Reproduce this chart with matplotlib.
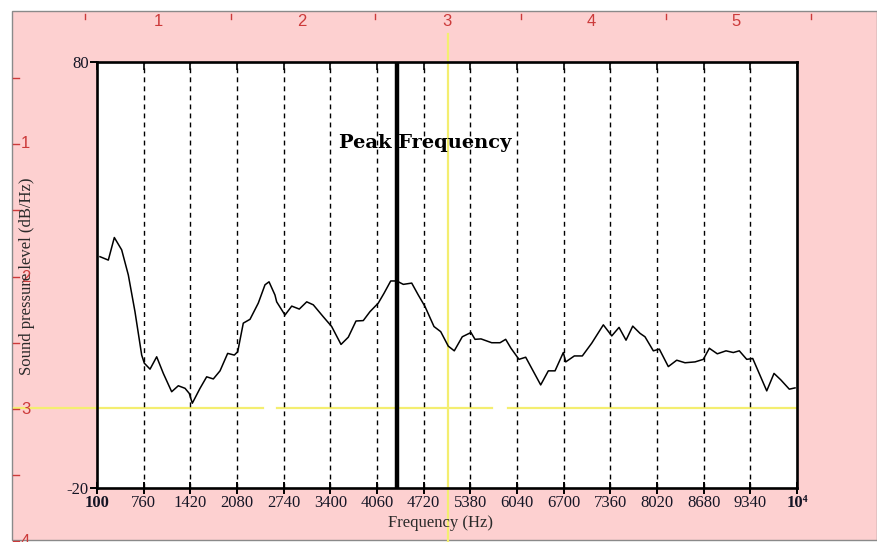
import matplotlib
matplotlib.use('Agg')
import matplotlib.pyplot as plt
from matplotlib.patches import Rectangle
from matplotlib.lines import Line2D

# ---------------- data ----------------
freq = [142, 260, 345, 449, 543, 637, 732, 769, 850, 944, 1038, 1156, 1250, 1345,
        1405, 1448, 1557, 1651, 1745, 1840, 1948, 2042, 2090, 2169, 2264, 2381,
        2476, 2533, 2617, 2641, 2759, 2854, 2961, 3066, 3159, 3300, 3419, 3551,
        3654, 3763, 3866, 3961, 4078, 4159, 4254, 4339, 4432, 4551, 4644, 4739,
        4866, 4961, 5068, 5153, 5266, 5389, 5446, 5531, 5682, 5800, 5880, 5955,
        6068, 6163, 6375, 6483, 6578, 6695, 6729, 6851, 6964, 7097, 7261, 7380,
        7483, 7582, 7677, 7780, 7850, 7968, 8053, 8180, 8299, 8416, 8558, 8675,
        8760, 8873, 8996, 9099, 9184, 9289, 9374, 9572, 9675, 9770, 9891, 9972]
spl = [34.3, 33.5, 38.8, 35.9, 30.0, 21.4, 11.2, 9.3, 7.9, 10.8, 6.9, 2.6, 4.0, 3.4,
       2.2, -0.1, 3.4, 6.1, 5.6, 7.5, 11.6, 11.2, 12.0, 18.7, 19.6, 23.4,
       27.7, 28.4, 25.3, 23.7, 20.6, 22.7, 22.0, 23.7, 23.0, 20.2, 17.9, 13.7,
       15.4, 19.2, 19.3, 21.4, 23.4, 25.7, 28.6, 28.6, 27.8, 28.1, 25.3, 22.6,
       17.9, 16.7, 13.3, 12.2, 15.5, 16.5, 14.9, 15.0, 14.1, 14.1, 14.9, 12.8,
       10.2, 10.7, 4.2, 7.5, 7.5, 11.8, 9.6, 11.0, 11.0, 14.0, 18.3, 15.7,
       17.7, 14.7, 18.0, 16.3, 15.5, 12.2, 12.6, 8.5, 10.0, 9.4, 9.6, 10.2,
       12.8, 11.5, 12.2, 11.8, 12.2, 10.2, 10.4, 2.8, 6.9, 5.4, 3.2, 3.5]

xticks = [100, 760, 1420, 2080, 2740, 3400, 4060, 4720, 5380, 6040, 6700, 7360,
          8020, 8680, 9340, 10000]
xtick_labels = ['100', '760', '1420', '2080', '2740', '3400', '4060', '4720', '5380',
                '6040', '6700', '7360', '8020', '8680', '9340', '10\u2074']
yticks = [80, -20]
ytick_labels = ['80', '-20']
peak_freq = 4340
peak_label = 'Peak Frequency'
cursor_freq = 5064
cursor_level = -1.2
cursor_segments = [(-1074, 2448), (2646, 5686), (5913, 10000)]
ruler_top_labels = ['1', '2', '3', '4', '5']
ruler_left_labels = ['1', '2', '3', '4']

# ---------------- layout ----------------
W, H = 877, 542
def fx(px):
    return px / W
def fy(py):
    return 1 - py / H

PINK = '#fdd0d0'
RED = '#cc3a3a'
YEL = '#f4ee70'
serif = ['Liberation Serif', 'DejaVu Serif']
narrow = ['Liberation Sans Narrow', 'Liberation Sans', 'DejaVu Sans']

fig = plt.figure(figsize=(W / 100, H / 100), dpi=100, facecolor='white')
fig.add_artist(Rectangle((fx(12), fy(540)), (W - 12) / W, (540 - 11) / H,
                         transform=fig.transFigure, facecolor=PINK,
                         edgecolor='#8a8a8a', lw=1, zorder=0))

# top ruler
for px in [85, 231, 375, 521, 666, 811]:
    fig.add_artist(Line2D([fx(px), fx(px)], [fy(14), fy(19)], color=RED, lw=1,
                          transform=fig.transFigure))
for px, lab in zip([158, 302, 447, 591, 736], ruler_top_labels):
    fig.text(fx(px), fy(22), lab, color=RED, fontsize=12, family=narrow,
             ha='center', va='center')
# left ruler
for py in [78, 144, 210, 277, 343, 409, 475, 541]:
    fig.add_artist(Line2D([fx(13), fx(19)], [fy(py), fy(py)], color=RED, lw=1,
                          transform=fig.transFigure))
for py, lab in zip([144, 277, 409, 541], ruler_left_labels):
    fig.text(fx(21), fy(py), lab, color=RED, fontsize=12, family=narrow,
             ha='left', va='center')

ax = fig.add_axes([fx(97), fy(488), 700 / W, 426 / H])
ax.set_facecolor('white')
ax.set_xlim(100, 10000)
ax.set_ylim(-20, 80)

# cursors (yellow)
ax.axvline(cursor_freq, ymin=-0.13, ymax=1.065, color=YEL, lw=1.6,
           clip_on=False, zorder=1)
for a, b in cursor_segments:
    ax.plot([a, b], [cursor_level, cursor_level], color=YEL, lw=1.6,
            clip_on=False, zorder=1)

# dashed grid
for t in xticks[1:-1]:
    ax.axvline(t, color='black', lw=1.0, ls=(0, (3.5, 3)), zorder=2)

ax.axvline(peak_freq, color='black', lw=3.2, zorder=3)
ax.plot(freq, spl, color='black', lw=1.1, zorder=4)

ax.text((425 - 97) / 700, (488 - 143) / 426, peak_label, transform=ax.transAxes,
        family='DejaVu Serif', fontweight='heavy', fontsize=14,
        ha='center', va='center', zorder=5)

for s in ax.spines.values():
    s.set_linewidth(1.9)
    s.set_color('black')

ax.set_xticks(xticks)
ax.set_xticklabels(xtick_labels, family=serif, fontsize=12, color='#151525')
ax.get_xticklabels()[-1].set_fontweight('bold')
ax.get_xticklabels()[0].set_fontweight('bold')
ax.tick_params(axis='x', direction='inout', length=8, width=1.4, pad=1)
ax.set_yticks(yticks)
ax.set_yticklabels(ytick_labels, family=serif, fontsize=12, color='#151525')
ax.tick_params(axis='y', direction='out', length=5, width=1.4, pad=1)

top = ax.secondary_xaxis('top')
top.set_xticks(xticks)
top.set_xticklabels([])
top.tick_params(direction='in', length=6, width=1.2)
top.spines['top'].set_visible(False)

fig.text(fx(441), fy(523), 'Frequency (Hz)', family=serif, fontsize=12,
         color='#2a2a2a', ha='center', va='center')
fig.text(fx(27), fy(276), 'Sound pressure level (dB/Hz)', family=serif,
         fontsize=12, color='#2a2a2a', rotation=90, ha='center', va='center')

fig.savefig('out.png', dpi=100, facecolor=fig.get_facecolor())
